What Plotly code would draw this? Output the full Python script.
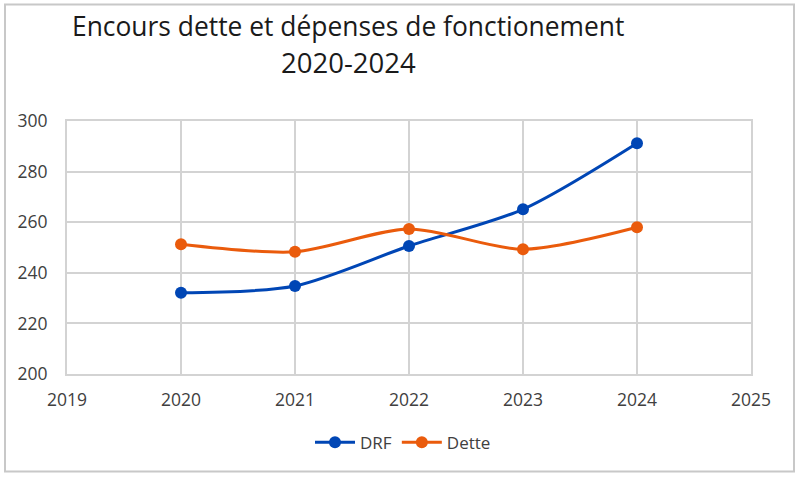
import plotly.graph_objects as go

years = [2020, 2021, 2022, 2023, 2024]
drf = [232.1, 234.8, 250.6, 265.1, 291.2]
dette = [251.3, 248.3, 257.3, 249.3, 258.0]

title_line1 = "Encours dette et dépenses de fonctionement"
title_line2 = "2020-2024"

blue = "#0046B5"
orange = "#EA5B0C"
grid = "#D3D3D3"
font_fam = "Open Sans, Lato, sans-serif"

fig = go.Figure()
fig.add_trace(go.Scatter(x=years, y=drf, name="DRF", mode="lines+markers",
                         line=dict(color=blue, width=3, shape="spline", smoothing=0.8),
                         marker=dict(color=blue, size=12)))
fig.add_trace(go.Scatter(x=years, y=dette, name="Dette", mode="lines+markers",
                         line=dict(color=orange, width=3, shape="spline", smoothing=0.8),
                         marker=dict(color=orange, size=12)))

fig.update_layout(
    width=800, height=478,
    margin=dict(l=67, r=49, t=121, b=104),
    paper_bgcolor="white", plot_bgcolor="white",
    font=dict(family=font_fam, size=15, color="#404040"),
    showlegend=True,
    legend=dict(orientation="h", x=(403 - 67) / 684, xanchor="center", y=-0.20, yanchor="top",
                font=dict(size=17, color="#404040"), itemwidth=40, tracegroupgap=0),
    xaxis=dict(range=[2019, 2025], dtick=1, tick0=2019, showgrid=True, gridcolor=grid, gridwidth=2,
               showline=True, linecolor=grid, linewidth=2, mirror=True, zeroline=False,
               ticks="", ticklabelstandoff=9, tickfont=dict(size=17.5, color="#404040")),
    yaxis=dict(range=[200, 300], dtick=20, showgrid=True, gridcolor=grid, gridwidth=2,
               showline=True, linecolor=grid, linewidth=2, mirror=True, zeroline=False,
               ticks="", ticklabelstandoff=14, tickfont=dict(size=17.5, color="#404040")),
)

fig.add_annotation(text=title_line1, xref="paper", yref="paper", x=(348 - 67) / 684, y=(374.3 - 25) / 253.6,
                   xanchor="center", yanchor="middle", showarrow=False,
                   font=dict(size=26.4, color="#1a1a1a", family=font_fam))
fig.add_annotation(text=title_line2, xref="paper", yref="paper", x=(348 - 67) / 684, y=(374.3 - 62.5) / 253.6,
                   xanchor="center", yanchor="middle", showarrow=False,
                   font=dict(size=27.5, color="#1a1a1a", family=font_fam))

# outer chart frame
fig.add_shape(type="rect", xref="paper", yref="paper",
              x0=(5 - 67) / 684, x1=(794 - 67) / 684,
              y0=(374.3 - 472) / 253.6, y1=(374.3 - 4) / 253.6,
              line=dict(color="#C8C8C8", width=2), fillcolor="rgba(0,0,0,0)", layer="below")

fig.write_html("out.html", config={"displayModeBar": False},
               post_script="document.body.style.margin='0';document.body.style.padding='0';")
